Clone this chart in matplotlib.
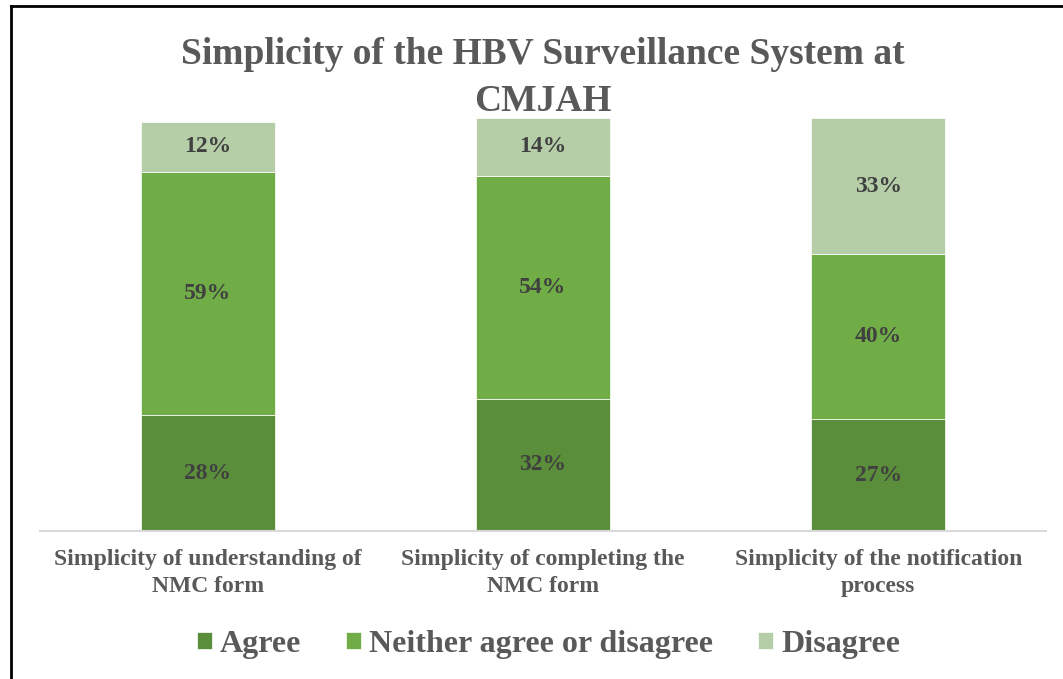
import matplotlib.pyplot as plt
import numpy as np
from matplotlib.lines import Line2D

categories = [
    "Simplicity of understanding of\nNMC form",
    "Simplicity of completing the\nNMC form",
    "Simplicity of the notification\nprocess",
]
agree = [28, 32, 27]
neither = [59, 54, 40]
disagree = [12, 14, 33]

series = [
    ("Agree", agree, "#5B8E3A"),
    ("Neither agree or disagree", neither, "#70AD47"),
    ("Disagree", disagree, "#B5CEA8"),
]

plt.rcParams["font.family"] = ["Liberation Serif", "DejaVu Serif"]
plt.rcParams["font.weight"] = "bold"

fig = plt.figure(figsize=(10.63, 6.79), dpi=100)
ax = fig.add_axes([0.0376, 0.218, 0.9464, 0.6082])

x = np.arange(len(categories))
bottom = np.zeros(len(categories))
for name, vals, color in series:
    vals = np.array(vals, dtype=float)
    ax.bar(x, vals, width=0.4, bottom=bottom, color=color, label=name,
           edgecolor="white", linewidth=0.5)
    for xi, b, v in zip(x, bottom, vals):
        ax.text(xi, b + v / 2, f"{v:.0f}%", ha="center", va="center",
                fontsize=17, fontweight="bold", color="#404040")
    bottom += vals

ax.set_xlim(-0.5, 2.5)
ax.set_ylim(0, 100)
ax.set_yticks([])
ax.set_xticks(x)
ax.set_xticklabels(categories, fontsize=17, fontweight="bold", color="#595959",
                   linespacing=1.4)
ax.tick_params(axis="x", length=0, pad=13)
for side in ["top", "right", "left"]:
    ax.spines[side].set_visible(False)
ax.spines["bottom"].set_color("#D9D9D9")
ax.spines["bottom"].set_linewidth(1.5)

fig.text(0.511, 0.885, "Simplicity of the HBV Surveillance System at\nCMJAH",
         ha="center", va="center", fontsize=27, fontweight="bold",
         color="#595959", linespacing=1.45)

handles, labels = ax.get_legend_handles_labels()
fig.legend(handles, labels, loc="center", bbox_to_anchor=(0.516, 0.051), ncol=3,
           frameon=False, prop={"size": 23, "weight": "bold"},
           labelcolor="#595959", handlelength=0.48, handleheight=0.48,
           handletextpad=0.25, columnspacing=1.4)

# frame lines on the left and top edges
fig.add_artist(Line2D([0.0103, 0.0103], [0, 0.991], transform=fig.transFigure,
                      color="black", linewidth=2))
fig.add_artist(Line2D([0.0103, 1.0], [0.991, 0.991], transform=fig.transFigure,
                      color="black", linewidth=2))

fig.savefig("out.png", dpi=100)
